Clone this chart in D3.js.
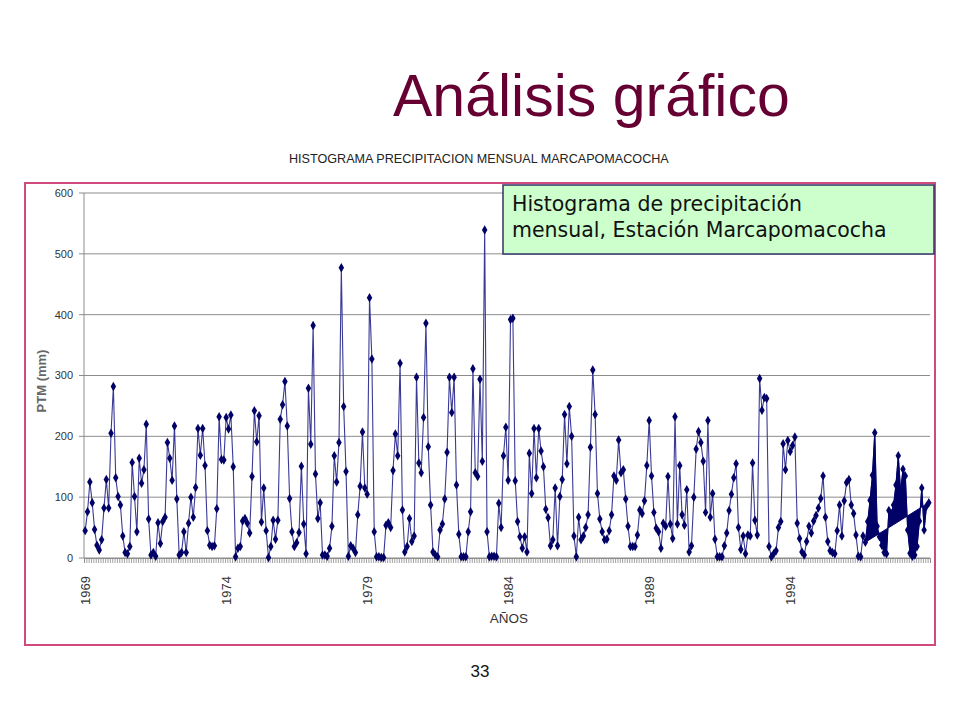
<!DOCTYPE html>
<html><head><meta charset="utf-8">
<script src="https://cdn.jsdelivr.net/npm/d3@7"></script>
<style>body{margin:0;background:#fff}</style>
</head><body>
<svg id="c" width="960" height="720"></svg>
<script>
// Monthly precipitation (mm), Jan 1969 .. Dec 1998
const ptm = [
45,76,125,91,47,21,13,30,82,129,82,205,282,132,101,87,36,9,7,19,157,101,43,164,123,145,220,64,5,9,3,58,24,60,67,190,164,128,217,97,5,9,43,9,57,100,
67,116,213,169,213,152,45,21,19,20,81,232,162,161,231,212,235,150,2,16,19,61,65,57,41,134,242,191,234,59,115,45,1,19,62,31,62,228,252,290,217,98,43,19,
25,42,151,56,7,279,187,382,138,65,91,5,5,3,16,52,168,125,190,477,249,142,3,20,16,9,71,118,207,115,105,428,327,43,2,2,1,1,54,58,50,144,204,168,320,
79,10,19,65,27,36,297,156,140,231,386,183,87,10,5,2,46,56,97,174,297,239,297,120,39,2,2,2,43,76,311,140,134,294,159,539,43,2,3,3,2,90,50,168,215,
128,392,394,127,60,35,16,35,10,172,106,213,132,213,176,150,80,66,20,30,115,20,101,129,236,155,249,200,36,2,67,30,36,50,71,182,309,236,106,64,43,30,31,45,
71,135,128,194,140,145,97,52,19,19,19,38,79,73,94,152,226,135,75,49,43,16,57,52,134,56,32,232,56,152,71,54,112,10,20,100,179,208,190,159,75,226,67,106,
31,2,2,2,20,41,78,105,132,155,50,14,36,7,38,36,156,62,38,295,243,264,262,19,2,7,12,50,60,188,145,193,175,185,199,57,32,10,5,27,52,41,61,70,82,98,
135,67,27,12,9,7,45,87,36,94,124,129,87,73,38,3,2,36,26,60,95,136,206,52,35,21,9,7,78,73,87,120,168,109,146,135,46,8,3,5,19,61,115,46,85,91
];
const months = d3.range(ptm.length);
const yearLabels = ["1969","1974","1979","1984","1989","1994"];
const yearIndex = [0,60,120,180,240,300];
const yTicks = [0,100,200,300,400,500,600];
const fillStart = 332;

const svg = d3.select("#c");
svg.append("rect").attr("width",960).attr("height",720).attr("fill","#fff");

const AR = "Liberation Sans, Arial, sans-serif";

// Slide title
svg.append("text").attr("x",393).attr("y",116).attr("font-family",AR)
  .attr("font-size",59).attr("fill","#660033").text("Análisis gráfico");

// Chart title
svg.append("text").attr("x",289).attr("y",163).attr("font-family",AR)
  .attr("font-size",12.6).attr("fill","#222").text("HISTOGRAMA PRECIPITACION MENSUAL MARCAPOMACOCHA");

// Outer border
svg.append("rect").attr("x",25).attr("y",183).attr("width",910).attr("height",462)
  .attr("fill","none").attr("stroke","#d04a7e").attr("stroke-width",2);

const L=84, R=930, T=193, B=558;
const x = d3.scaleBand().domain(months).range([L,R]).padding(0);
const cx = i => x(i) + x.bandwidth()/2;
const y = d3.scaleLinear().domain([0,600]).range([B,T]);

// gridlines + y axis
svg.append("g").selectAll("line").data(yTicks).join("line")
  .attr("x1",L).attr("x2",R).attr("y1",d=>y(d)).attr("y2",d=>y(d))
  .attr("stroke","#8c8c8c").attr("stroke-width",1);
svg.append("line").attr("x1",L).attr("x2",L).attr("y1",T).attr("y2",B).attr("stroke","#8c8c8c");
svg.append("g").selectAll("line").data(yTicks).join("line")
  .attr("x1",L-5).attr("x2",L).attr("y1",d=>y(d)).attr("y2",d=>y(d)).attr("stroke","#8c8c8c");
svg.append("g").selectAll("text").data(yTicks).join("text")
  .attr("x",73).attr("y",d=>y(d)).attr("dy","0.35em").attr("text-anchor","end")
  .attr("font-family",AR).attr("font-size",11).attr("fill","#333").text(d=>d);

// x axis with monthly ticks
const xb = d3.scaleLinear().domain([0,ptm.length]).range([L,R]);
const xa = svg.append("g").attr("transform",`translate(0,${B})`)
  .call(d3.axisBottom(xb).tickValues(d3.range(ptm.length+1)).tickSize(5).tickFormat(""));
xa.selectAll("line").attr("stroke","#8c8c8c").attr("stroke-width",0.8);
xa.select(".domain").attr("stroke","#8c8c8c");

svg.append("g").selectAll("text").data(yearLabels).join("text")
  .attr("transform",(d,k)=>`translate(${cx(yearIndex[k])},576) rotate(-90)`)
  .attr("text-anchor","end").attr("dy","0.35em")
  .attr("font-family",AR).attr("font-size",13).attr("fill","#333").text(d=>d);

svg.append("text").attr("x",509).attr("y",623).attr("text-anchor","middle")
  .attr("font-family",AR).attr("font-size",13.5).attr("fill","#333").text("AÑOS");

svg.append("text").attr("transform","translate(46,381) rotate(-90)").attr("text-anchor","middle")
  .attr("font-family",AR).attr("font-size",13).attr("font-weight","bold").attr("fill","#666").text("PTM (mm)");

// data line
const line = d3.line().x((d,i)=>cx(i)).y(d=>y(d));
svg.append("path").datum(ptm).attr("d",line).attr("fill","none")
  .attr("stroke","#3a3a96").attr("stroke-width",1.1);

// filled tail segment
const tail = ptm.slice(fillStart);
const lineT = d3.line().x((d,i)=>cx(i+fillStart)).y(d=>y(d));
svg.append("path").datum(tail).attr("d",d=>lineT(d)+"Z").attr("fill","#000066")
  .attr("stroke","#000066").attr("stroke-width",1);

// markers
svg.append("g").selectAll("path").data(ptm).join("path")
  .attr("transform",(d,i)=>`translate(${cx(i)},${y(d)})`)
  .attr("d",d3.symbol(d3.symbolDiamond,26)).attr("fill","#000066");

// annotation box
svg.append("rect").attr("x",503).attr("y",185).attr("width",431).attr("height",69)
  .attr("fill","#ccffcc").attr("stroke","#333366").attr("stroke-width",1.5);
const ann = ["Histograma de precipitación","mensual, Estación Marcapomacocha"];
svg.append("g").selectAll("text").data(ann).join("text")
  .attr("x",512).attr("y",(d,i)=>211+i*26).attr("font-family","DejaVu Sans, sans-serif")
  .attr("font-size",20.5).attr("fill","#111").text(d=>d);

// page number
svg.append("text").attr("x",480).attr("y",677).attr("text-anchor","middle")
  .attr("font-family",AR).attr("font-size",17).attr("fill","#111").text("33");
</script>
</body></html>
